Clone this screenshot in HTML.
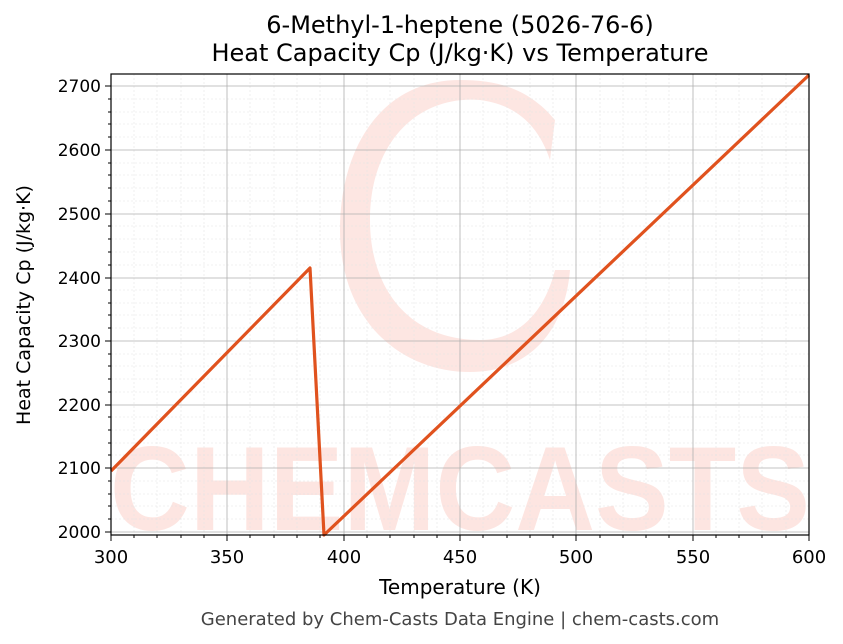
<!DOCTYPE html><html><head><style>body{margin:0;background:#fff}svg{display:block;font-family:"DejaVu Sans","Liberation Sans",sans-serif}</style></head><body>
<svg width="843" height="644" xmlns="http://www.w3.org/2000/svg">
<rect width="843" height="644" fill="#fff"/>
<g opacity="0.13" fill="#f04020">
<path d="M460 80 C380 80 340 150 340 230 C340 320 400 372 470 372 C530 372 565 330 570 270 L555 270 C545 310 520 340 480 340 C410 340 370 290 370 220 C370 140 420 95 480 100 C520 105 540 130 550 160 L555 120 C530 90 500 80 460 80Z"/>
<text x="460" y="530" font-size="120" font-weight="bold" text-anchor="middle" font-family="Liberation Sans,sans-serif" textLength="700" lengthAdjust="spacingAndGlyphs">CHEMCASTS</text>
</g>
<g stroke="#e4e4e4" stroke-width="0.6" stroke-dasharray="2,2">
<path d="M134 74V535M157 74V535M181 74V535M204 74V535M250 74V535M274 74V535M297 74V535M320 74V535M367 74V535M390 74V535M414 74V535M437 74V535M483 74V535M507 74V535M530 74V535M553 74V535M600 74V535M623 74V535M646 74V535M669 74V535M716 74V535M739 74V535M762 74V535M786 74V535"/>
<path d="M111 519H809M111 506H809M111 494H809M111 481H809M111 455H809M111 443H809M111 430H809M111 417H809M111 392H809M111 379H809M111 366H809M111 354H809M111 328H809M111 315H809M111 303H809M111 290H809M111 265H809M111 252H809M111 239H809M111 226H809M111 201H809M111 188H809M111 175H809M111 163H809M111 137H809M111 124H809M111 112H809M111 99H809"/>
</g>
<g stroke="#b0b0b0" stroke-width="0.8">
<path d="M227 74V535M344 74V535M460 74V535M576 74V535M693 74V535"/>
<path d="M111 86H809M111 150H809M111 214H809M111 278H809M111 341H809M111 405H809M111 468H809M111 532H809"/>
</g>
<polyline fill="none" stroke="#e0521e" stroke-width="3.2" stroke-linejoin="round" points="111,471 310,268 324,535 809,75"/>
<rect x="111" y="74" width="698" height="461" fill="none" stroke="#000" stroke-width="1.2"/>
<g stroke="#000" stroke-width="1">
<path d="M111 535v6M227 535v6M344 535v6M460 535v6M576 535v6M693 535v6M809 535v6"/>
<path d="M111 86h-6M111 150h-6M111 214h-6M111 278h-6M111 341h-6M111 405h-6M111 468h-6M111 532h-6"/>
<path d="M134 535v3M157 535v3M181 535v3M204 535v3M250 535v3M274 535v3M297 535v3M320 535v3M367 535v3M390 535v3M414 535v3M437 535v3M483 535v3M507 535v3M530 535v3M553 535v3M600 535v3M623 535v3M646 535v3M669 535v3M716 535v3M739 535v3M762 535v3M786 535v3"/>
<path d="M111 519h-3M111 506h-3M111 494h-3M111 481h-3M111 455h-3M111 443h-3M111 430h-3M111 417h-3M111 392h-3M111 379h-3M111 366h-3M111 354h-3M111 328h-3M111 315h-3M111 303h-3M111 290h-3M111 265h-3M111 252h-3M111 239h-3M111 226h-3M111 201h-3M111 188h-3M111 175h-3M111 163h-3M111 137h-3M111 124h-3M111 112h-3M111 99h-3"/>
</g>
<g font-size="18" fill="#000" text-anchor="middle">
<text x="111" y="563">300</text><text x="227" y="563">350</text><text x="344" y="563">400</text><text x="460" y="563">450</text><text x="576" y="563">500</text><text x="693" y="563">550</text><text x="809" y="563">600</text>
</g>
<g font-size="17" fill="#000" text-anchor="end">
<text x="101" y="92">2700</text><text x="101" y="156">2600</text><text x="101" y="220">2500</text><text x="101" y="284">2400</text><text x="101" y="347">2300</text><text x="101" y="411">2200</text><text x="101" y="474">2100</text><text x="101" y="538">2000</text>
</g>
<text x="460" y="594" font-size="20" text-anchor="middle">Temperature (K)</text>
<text transform="translate(30 305) rotate(-90)" font-size="19" text-anchor="middle">Heat Capacity Cp (J/kg·K)</text>
<text x="460" y="33" font-size="24" text-anchor="middle">6-Methyl-1-heptene (5026-76-6)</text>
<text x="460" y="61" font-size="24" text-anchor="middle">Heat Capacity Cp (J/kg·K) vs Temperature</text>
<text x="460" y="625" font-size="18" fill="#444" text-anchor="middle">Generated by Chem-Casts Data Engine | chem-casts.com</text>
</svg></body></html>
